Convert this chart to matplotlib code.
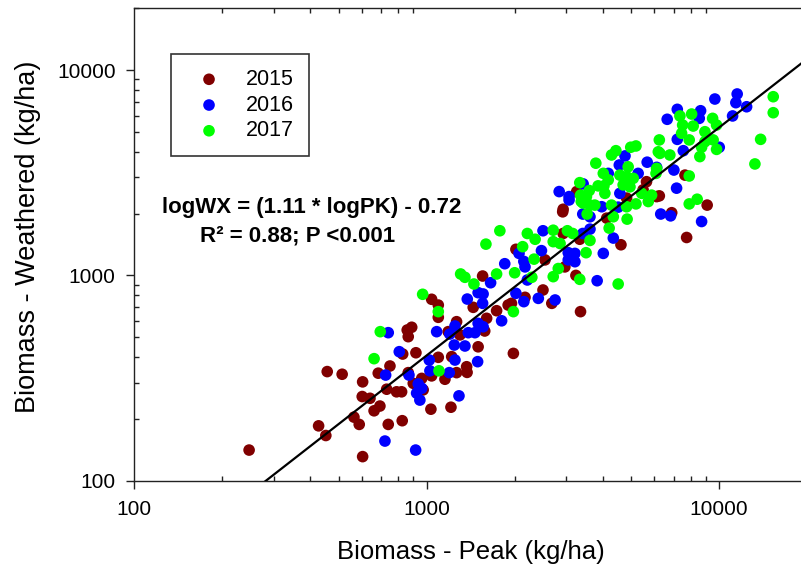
import numpy as np
import matplotlib
matplotlib.use("Agg")
import matplotlib.pyplot as plt
from matplotlib.ticker import LogLocator, NullFormatter, FixedLocator, FixedFormatter

plt.rcParams['font.family'] = ['Liberation Sans', 'DejaVu Sans']

# ---------------- data (kg/ha) ----------------
x2015 = [457, 514, 604, 602, 640, 661, 564, 588, 427, 452, 247, 604, 865, 1580, 1500, 1980,
         919, 828, 1096, 1370, 1375, 749, 1040, 1155, 1266, 683, 865, 962, 900, 973, 821, 789,
         730, 692, 1034, 1211, 739, 825, 2020, 1554, 1443, 1735, 1900, 1040, 1096, 1096, 1604,
         1266, 1185, 889, 858, 2920, 4130, 2930, 3340, 4620, 2540, 2970, 3240, 2500, 2170, 2680,
         3360, 1950, 5650, 3260, 5500, 6120, 4830, 2930, 7650, 6250, 9110, 6890, 7750, 1300, 1218]
y2015 = [340, 330, 303, 257, 252, 219, 204, 188, 185, 166, 141, 131, 503, 536, 449, 417,
         420, 414, 399, 359, 337, 362, 324, 312, 336, 334, 336, 315, 298, 277, 271, 271,
         279, 231, 223, 228, 188, 196, 1340, 993, 699, 673, 717, 765, 717, 625, 618,
         595, 532, 559, 542, 2040, 1900, 1600, 1500, 1410, 1190, 1100, 1000, 849, 782, 731,
         666, 731, 2860, 2560, 2610, 2420, 2380, 2100, 3080, 2440, 2200, 2020, 1530, 513, 402]

x2016 = [720, 917, 739, 1082, 1200, 1388, 1463, 1243, 1352, 806, 1021, 1250, 1494, 1026, 1195,
         724, 870, 936, 962, 924, 948, 1290, 2070, 1850, 1655, 2020, 1500, 1560, 1377, 1554,
         1805, 1500, 1560, 1250, 3420, 3620, 3070, 4520, 6320, 3620, 3420, 2500, 4350, 2470,
         3050, 3215, 3050, 3215, 4020, 2150, 2170, 3830, 2210, 2410, 2150, 2750, 4770, 5680,
         4560, 6120, 5290, 4180, 3430, 2840, 3070, 4580, 3970, 11540, 11420, 12430, 9680, 7200,
         8650, 8560, 6650, 11130, 7200, 7550, 10020, 7010, 7160, 6830, 8720]
y2016 = [156, 141, 526, 532, 518, 526, 526, 458, 453, 425, 387, 387, 380, 343, 336,
         327, 327, 296, 282, 267, 247, 259, 1280, 1140, 921, 818, 824, 812, 767, 731,
         601, 584, 562, 567, 1990, 1930, 2330, 2150, 1990, 1680, 1600, 1650, 1520, 1320,
         1290, 1280, 1190, 1166, 1280, 1170, 1100, 942, 950, 773, 745, 759, 3820, 3560,
         3450, 3360, 3140, 3140, 2790, 2560, 2420, 2510, 2160, 7650, 6940, 6630, 7230, 6440,
         6340, 5820, 5760, 5980, 4600, 4050, 4210, 3260, 2660, 1950, 1830]

x2017 = [694, 661, 1102, 1780, 1595, 2000, 1735, 1307, 1352, 1451, 969, 1096, 1980, 3430, 3620,
         3760, 3540, 4290, 4830, 5200, 5730, 4350, 4850, 4210, 2210, 2710, 3030, 3160, 3620,
         2350, 2710, 2860, 2130, 3510, 2330, 2820, 2710, 3340, 4520, 2290, 6250, 6200, 4990,
         5200, 4440, 4290, 3790, 4890, 6090, 4020, 4580, 4830, 5090, 4180, 4700, 4960, 3860,
         4040, 3340, 3600, 3360, 3520, 3380, 4070, 5440, 5880, 15330, 15330, 7350, 8060, 9510,
         9810, 7510, 8160, 7450, 8950, 7910, 9550, 8950, 8720, 9810, 13880, 6280, 6790, 8600,
         13270, 6120, 7910, 7910, 8420]
y2017 = [532, 393, 343, 1650, 1420, 1030, 1016, 1016, 979, 908, 809, 666, 666, 2250, 2200,
         2200, 1990, 2200, 2160, 2230, 2290, 1930, 1880, 1700, 1600, 1660, 1650, 1600, 1480,
         1500, 1460, 1430, 1380, 1290, 1200, 1080, 986, 957, 908, 979, 4570, 4000, 4210,
         4270, 4050, 3860, 3520, 3380, 3140, 3140, 3080, 3030, 2970, 2920, 2760, 2700, 2730,
         2730, 2830, 2590, 2460, 2420, 2290, 2510, 2510, 2460, 7420, 6200, 5980, 6110, 5820,
         5400, 5400, 5340, 4920, 5010, 4570, 4570, 4480, 4210, 4110, 4600, 3930, 3860, 3790,
         3490, 3320, 3050, 2230, 2350]

years = ["2015", "2016", "2017"]
colors = ["#800000", "#0000FF", "#00FF00"]

slope = 1.11
intercept = -0.72
equation = "logWX = (1.11 * logPK) - 0.72"
stats_text = "R\u00b2 = 0.88; P <0.001"

xticks = [100, 1000, 10000]
yticks = [100, 1000, 10000]

# ---------------- figure ----------------
W, H = 801, 575
fig = plt.figure(figsize=(W / 100, H / 100), dpi=100)
ax_l, ax_r, ax_t, ax_b = 134.3, 807.0, 8.3, 480.7
ax = fig.add_axes([ax_l / W, 1 - ax_b / H, (ax_r - ax_l) / W, (ax_b - ax_t) / H])

ax.set_xscale('log')
ax.set_yscale('log')
ax.set_xlim(100, 20000)
ax.set_ylim(100, 20000)

for xs, ys, c, lab in zip([x2015, x2016, x2017], [y2015, y2016, y2017], colors, years):
    ax.scatter(xs, ys, s=70, c=c, edgecolors='none', label=lab, zorder=2)

# regression line
xl = np.logspace(np.log10(200), np.log10(20000), 200)
yl = 10 ** (slope * np.log10(xl) + intercept)
ax.plot(xl, yl, color='black', lw=1.6, zorder=3)

# ticks
ax.xaxis.set_major_locator(FixedLocator(xticks))
ax.xaxis.set_major_formatter(FixedFormatter([str(t) for t in xticks]))
ax.yaxis.set_major_locator(FixedLocator(yticks))
ax.yaxis.set_major_formatter(FixedFormatter([str(t) for t in yticks]))
ax.xaxis.set_minor_locator(LogLocator(base=10, subs=np.arange(2, 10)))
ax.yaxis.set_minor_locator(LogLocator(base=10, subs=np.arange(2, 10)))
ax.xaxis.set_minor_formatter(NullFormatter())
ax.yaxis.set_minor_formatter(NullFormatter())
ax.tick_params(which='major', direction='out', length=5.8, width=1, labelsize=15,
               right=False, top=False, color='#222222')
ax.tick_params(axis='x', which='major', pad=7.8)
ax.tick_params(axis='y', which='major', pad=7.6)
ax.tick_params(which='minor', direction='in', length=3.5, width=1, top=True, right=True,
               color='#222222')
for sp in ax.spines.values():
    sp.set_linewidth(1.0)
    sp.set_color('#222222')

ax.set_xlabel("Biomass - Peak (kg/ha)", fontsize=18.5, va='center')
ax.xaxis.set_label_coords(0.5, (ax_b - 552) / (ax_b - ax_t))
ax.set_ylabel("Biomass - Weathered (kg/ha)", fontsize=19.5, va='center', ha='center')
ax.yaxis.set_label_coords((28 - ax_l) / (ax_r - ax_l), (ax_b - 237) / (ax_b - ax_t))

# equation text
ax.text((312 - ax_l) / (ax_r - ax_l), (ax_b - 207) / (ax_b - ax_t), equation,
        transform=ax.transAxes, ha='center', va='center', fontsize=16, fontweight='bold')
ax.text((298 - ax_l) / (ax_r - ax_l), (ax_b - 236) / (ax_b - ax_t), stats_text,
        transform=ax.transAxes, ha='center', va='center', fontsize=16, fontweight='bold')

leg = ax.legend(loc='upper left', bbox_to_anchor=(170.7 / W, 1 - 54.3 / H),
                bbox_transform=fig.transFigure, borderaxespad=0, fontsize=15.5,
                frameon=True, fancybox=False, borderpad=0.68, handlelength=2.2,
                handletextpad=0.62, labelspacing=0.22, scatterpoints=1, markerscale=1.0)
leg.get_frame().set_edgecolor('black')
leg.get_frame().set_linewidth(1.2)

fig.savefig("out.png", dpi=100)
